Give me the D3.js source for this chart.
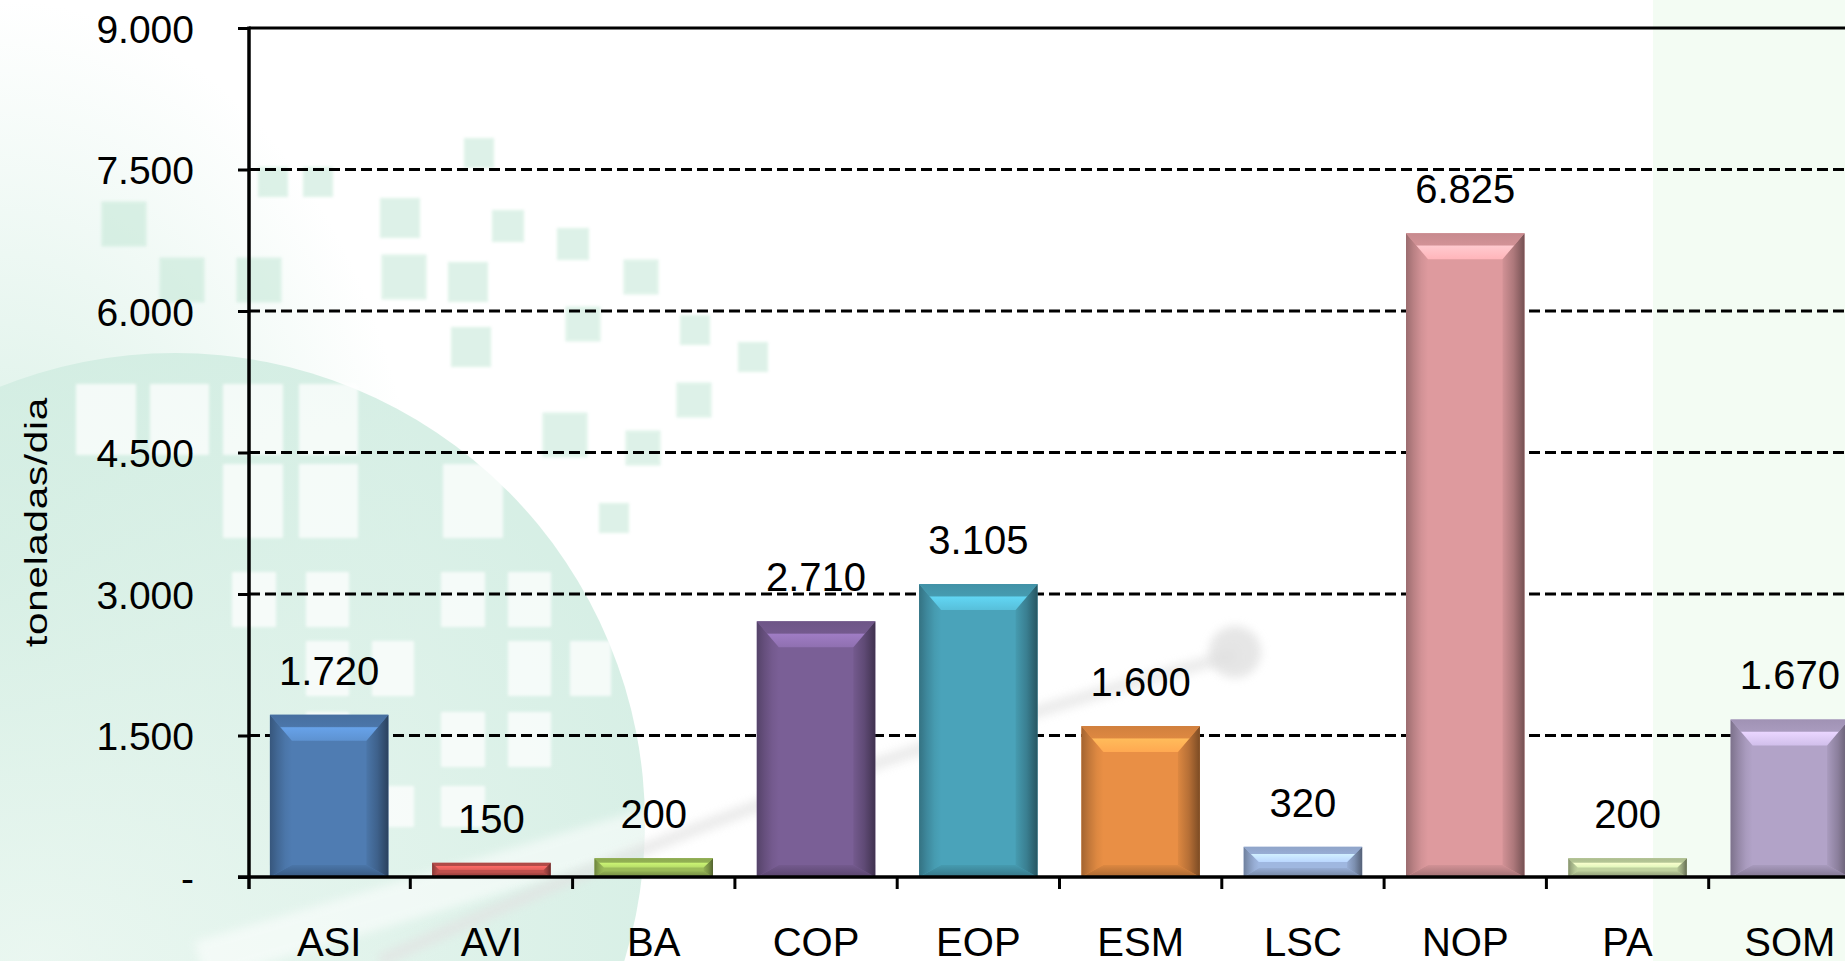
<!DOCTYPE html>
<html><head><meta charset="utf-8">
<script src="https://cdn.jsdelivr.net/npm/d3@7"></script>
<style>html,body{margin:0;padding:0;background:#fff;overflow:hidden}svg{display:block}</style>
</head><body>
<svg id="c" width="1845" height="961"></svg>
<script>
// ---- data ----
const categories = ["ASI","AVI","BA","COP","EOP","ESM","LSC","NOP","PA","SOM"];
const values = [1720,150,200,2710,3105,1600,320,6825,200,1670];
const barColors = ["#4F7CB2","#C0504D","#9BBB59","#7A5F96","#4AA3BA","#E98F45","#9FB7E0","#DE9A9E","#BFD19E","#B2A3C8"];
const yTicks = [0,1500,3000,4500,6000,7500,9000];
const yLabel = "toneladas/dia";

// ---- decorative background (watermark) ----
const greenSquares = [[273,182,30],[318,182,30],[479,153,30],[124,224,45],[400,218,40],[508,226,32],[573,244,32],
  [182,280,45],[259,280,45],[404,277,45],[468,282,40],[641,277,35],[583,324,35],[695,330,30],[471,347,40],
  [753,357,30],[694,400,35],[565,435,45],[643,448,35],[614,518,30]];
const whiteSquares = [[76,384,60,71],[150,384,59,71],[223,384,60,71],[299,384,59,71],
  [223,464,60,74],[299,464,59,74],[443,464,60,74],
  [232,572,44,55],[306,572,43,55],[441,572,44,55],[508,572,43,55],
  [306,641,43,55],[372,641,42,55],[508,641,43,55],[570,641,41,55],
  [306,712,43,55],[441,712,44,55],[508,712,43,55],
  [372,786,42,41],[441,786,44,41]];

const W = 1845, H = 961;
const FONT = "'Liberation Sans', Arial, Helvetica, sans-serif";
const svg = d3.select("#c");
const defs = svg.append("defs");

const blur = defs.append("filter").attr("id","blur").attr("x","-50%").attr("y","-50%").attr("width","200%").attr("height","200%");
blur.append("feGaussianBlur").attr("stdDeviation",5);
const blur2 = defs.append("filter").attr("id","blur2");
blur2.append("feGaussianBlur").attr("stdDeviation",1.5);

const rg = defs.append("radialGradient").attr("id","globe").attr("cx","35%").attr("cy","65%").attr("r","70%");
rg.append("stop").attr("offset","0%").attr("stop-color","#E8F6EF");
rg.append("stop").attr("offset","100%").attr("stop-color","#CDEBDF");
const lg = defs.append("radialGradient").attr("id","leftglow").attr("cx","0%").attr("cy","60%").attr("r","60%");
lg.append("stop").attr("offset","0%").attr("stop-color","#D6EFE4").attr("stop-opacity",1);
lg.append("stop").attr("offset","100%").attr("stop-color","#D6EFE4").attr("stop-opacity",0);

const bg = svg.append("g");
bg.append("rect").attr("width",W).attr("height",H).attr("fill","#fff");
bg.append("rect").attr("x",1653).attr("y",0).attr("width",W-1653).attr("height",H).attr("fill","#F3FCF3");
bg.append("rect").attr("x",0).attr("y",0).attr("width",700).attr("height",H).attr("fill","url(#leftglow)");
bg.append("circle").attr("cx",175).attr("cy",823).attr("r",470).attr("fill","url(#globe)").attr("opacity",0.8);
bg.append("path").attr("d","M 200 961 Q 750 800 1400 600").attr("fill","none").attr("stroke","#ffffff").attr("stroke-width",40).attr("opacity",0.55).attr("filter","url(#blur)");
bg.append("path").attr("d","M 380 961 Q 800 770 1235 655").attr("fill","none").attr("stroke","#E2E2E2").attr("stroke-width",12).attr("opacity",0.7).attr("filter","url(#blur)");
bg.append("circle").attr("cx",1235).attr("cy",652).attr("r",26).attr("fill","#E0E0E0").attr("opacity",0.8).attr("filter","url(#blur)");
bg.selectAll("rect.gs").data(greenSquares).join("rect").attr("class","gs")
  .attr("x",d=>d[0]-d[2]/2).attr("y",d=>d[1]-d[2]/2).attr("width",d=>d[2]).attr("height",d=>d[2])
  .attr("fill","#BDE5D2").attr("opacity",0.5).attr("filter","url(#blur2)");
bg.selectAll("rect.ws").data(whiteSquares).join("rect").attr("class","ws")
  .attr("x",d=>d[0]).attr("y",d=>d[1]).attr("width",d=>d[2]).attr("height",d=>d[3])
  .attr("fill","#ffffff").attr("opacity",0.75).attr("filter","url(#blur2)");

// ---- scales ----
const x = d3.scaleBand().domain(categories).range([248, 1871]).paddingInner(0.27).paddingOuter(0.135);
const y = d3.scaleLinear().domain([0, 9000]).range([877, 28]);
const loc = d3.formatLocale({decimal: ",", thousands: ".", grouping: [3], currency: ["", ""]});
const fmt = loc.format(",d");
const tickFmt = v => v === 0 ? "-" : fmt(v);

// ---- grid ----
const grid = svg.append("g");
grid.selectAll("line").data(yTicks.filter(v => v > 0)).join("line")
  .attr("x1", 249).attr("x2", W).attr("y1", d => y(d)).attr("y2", d => y(d))
  .attr("stroke", "#000").attr("stroke-width", 3)
  .attr("stroke-dasharray", d => d === 9000 ? null : "11,5");

// ---- bars with bevel ----
const barsG = svg.append("g");
categories.forEach((c, i) => {
  const base = d3.color(barColors[i]);
  const x0 = x(c), x1 = x(c) + x.bandwidth();
  const y0 = y(values[i]), y1 = y(0);
  const h = y1 - y0, w = x1 - x0;
  const t = Math.min(26, h * 0.5), b = Math.min(12, h * 0.3), s = Math.min(22, w / 2, Math.max(h * 0.5, 6));
  const id = "b" + i;
  const mk = (name, x1_, y1_, x2_, y2_, stops) => {
    const g = defs.append("linearGradient").attr("id", id + name)
      .attr("gradientUnits", "userSpaceOnUse").attr("x1", x1_).attr("y1", y1_).attr("x2", x2_).attr("y2", y2_);
    stops.forEach(([o, col]) => g.append("stop").attr("offset", o).attr("stop-color", col));
  };
  mk("t", 0, y0, 0, y0 + t, [[0, base.darker(0.3)], [0.45, base.darker(0.15)], [0.5, base.brighter(0.75)], [1, base.brighter(0.45)]]);
  mk("l", x0, 0, x0 + s, 0, [[0, base.darker(1.0)], [0.35, base.darker(0.5)], [0.7, base.darker(0.15)], [1, base]]);
  mk("r", x1 - s, 0, x1, 0, [[0, base.darker(0.15)], [0.5, base.darker(0.7)], [1, base.darker(1.8)]]);
  mk("b", 0, y1 - b, 0, y1, [[0, base.darker(0.15)], [1, base.darker(0.9)]]);
  const g = barsG.append("g");
  g.append("rect").attr("x", x0).attr("y", y0).attr("width", w).attr("height", h).attr("fill", base.toString());
  const poly = (pts, fill) => g.append("polygon").attr("points", pts.map(p => p.join(",")).join(" ")).attr("fill", fill);
  poly([[x0, y1], [x0 + s, y1 - b], [x1 - s, y1 - b], [x1, y1]], `url(#${id}b)`);
  poly([[x0, y0], [x0 + s, y0 + t], [x0 + s, y1 - b], [x0, y1]], `url(#${id}l)`);
  poly([[x1, y0], [x1 - s, y0 + t], [x1 - s, y1 - b], [x1, y1]], `url(#${id}r)`);
  poly([[x0, y0], [x1, y0], [x1 - s, y0 + t], [x0 + s, y0 + t]], `url(#${id}t)`);
});

// ---- value labels ----
svg.append("g").selectAll("text").data(categories).join("text")
  .attr("x", d => x(d) + x.bandwidth() / 2)
  .attr("y", (d, i) => y(values[i]) - 30)
  .attr("text-anchor", "middle")
  .attr("font-family", FONT).attr("font-size", 40).attr("fill", "#000")
  .text((d, i) => fmt(values[i]));

// ---- y axis ----
const yAxis = svg.append("g").attr("transform", "translate(249,0)")
  .call(d3.axisLeft(y).tickValues(yTicks).tickSize(11).tickPadding(44).tickFormat(tickFmt));
yAxis.select(".domain").remove();
yAxis.selectAll(".tick line").attr("stroke", "#000").attr("stroke-width", 3);
yAxis.selectAll(".tick text").attr("font-family", FONT).attr("font-size", 39).attr("fill", "#000").attr("dy", "0.37em");
svg.append("line").attr("x1", 249).attr("x2", 249).attr("y1", y(9000) - 1.5).attr("y2", 889)
  .attr("stroke", "#000").attr("stroke-width", 3.5);

// ---- x axis ----
const xAxis = svg.append("g").attr("transform", "translate(0,877)")
  .call(d3.axisBottom(x).tickSize(0).tickPadding(51));
xAxis.select(".domain").remove();
xAxis.selectAll(".tick text").attr("font-family", FONT).attr("font-size", 40).attr("fill", "#000");
svg.append("line").attr("x1", 238).attr("x2", W).attr("y1", 877).attr("y2", 877)
  .attr("stroke", "#000").attr("stroke-width", 3.5);
const bounds = categories.map(c => x(c) + x.bandwidth() / 2 - x.step() / 2).concat([x(categories[categories.length - 1]) + x.bandwidth() / 2 + x.step() / 2]);
svg.append("g").selectAll("line").data(bounds.slice(1)).join("line")
  .attr("x1", d => d).attr("x2", d => d).attr("y1", 877).attr("y2", 889)
  .attr("stroke", "#000").attr("stroke-width", 3);

// ---- y axis title (stretched along its length, as in the reference) ----
svg.append("text").attr("transform", "translate(47,522) rotate(-90) scale(1.3,1)")
  .attr("text-anchor", "middle").attr("font-family", FONT).attr("font-size", 31)
  .attr("letter-spacing", 0.6).attr("fill", "#000").text(yLabel);
</script>
</body></html>
